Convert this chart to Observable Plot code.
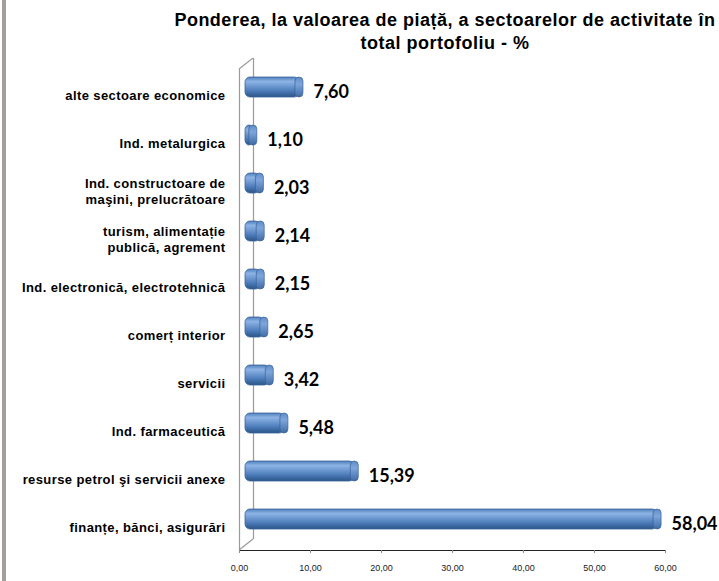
<!DOCTYPE html>
<html>
<head>
<meta charset="utf-8">
<script src="https://cdn.jsdelivr.net/npm/d3@7"></script>
<script src="https://cdn.jsdelivr.net/npm/@observablehq/plot@0.6"></script>
<style>
  html, body { margin: 0; padding: 0; background: #fff; }
  #wrap { position: relative; width: 719px; height: 581px; overflow: hidden; }
  #edge { position: absolute; left: 2px; top: 0; width: 4px; height: 581px; background: #a59f9c; }
  #title { height: 58px; box-sizing: border-box; padding-top: 9px; padding-left: 171px; text-align: center;
           font-family: "Liberation Sans", Arial, sans-serif; font-weight: bold; font-size: 18px; letter-spacing: 0.5px;
           line-height: 23px; color: #000; }
  svg { display: block; }
  .cat text { letter-spacing: 0.4px; }
</style>
</head>
<body>
<div id="wrap">
  <div id="edge"></div>
  <div id="title">Ponderea, la valoarea de piață, a sectoarelor de activitate în<br>total portofoliu - %</div>
  <div id="chart"></div>
</div>
<script>
const categories = [
  "alte sectoare economice",
  "Ind. metalurgica",
  "Ind. constructoare de\nmaşini, prelucrătoare",
  "turism, alimentație\npublică, agrement",
  "Ind. electronică, electrotehnică",
  "comerț interior",
  "servicii",
  "Ind. farmaceutică",
  "resurse petrol şi servicii anexe",
  "finanțe, bănci, asigurări"
];
const values = [7.60, 1.10, 2.03, 2.14, 2.15, 2.65, 3.42, 5.48, 15.39, 58.04];
const xTicks = [0, 10, 20, 30, 40, 50, 60];

const data = categories.map((c, i) => ({category: c, value: values[i]}));
const fmt = v => v.toFixed(2).replace(".", ",");

const barInset = 14;
const mTop = 11, mBottom = 31, H = 523;
const chart = Plot.plot({
  width: 719,
  height: H,
  marginLeft: 239,
  marginRight: 54,
  marginTop: mTop,
  marginBottom: mBottom,
  style: {fontFamily: "Liberation Sans, Arial, sans-serif", fontSize: "9px", color: "#222", background: "#fff"},
  x: {domain: [0, 60], ticks: xTicks, tickFormat: fmt, tickSize: 3, tickPadding: 11, line: true, label: null},
  y: {domain: categories, padding: 0, axis: null},
  marks: [
    Plot.ruleX([0], {stroke: "#9a9a9a", strokeWidth: 1.2, dx: 14, dy: -11}),
    Plot.ruleX([0], {stroke: "#9a9a9a", strokeWidth: 1.2}),
    Plot.barX(data, {x: "value", y: "category", fill: "url(#cyl)", stroke: "#3b649a", strokeWidth: 0.8,
      rx: 5, insetTop: barInset, insetBottom: barInset, dx: 6, dy: -7}),
    Plot.barX(data, {x1: "value", x2: "value", y: "category", fill: "url(#cap)", stroke: "#3a6296", strokeWidth: 0.7,
      rx: 4, insetLeft: -4, insetRight: -4, insetTop: barInset, insetBottom: barInset, dx: 6, dy: -7}),
    Plot.text(data, {x: 0, y: "category", text: "category", textAnchor: "end", dx: -14, lineHeight: 1.25,
      fontWeight: "bold", fontSize: 13, fill: "#000", className: "cat"}),
    Plot.text(data, {x: "value", y: "category", text: d => fmt(d.value), textAnchor: "start", dx: 20, dy: -2,
      fontWeight: "bold", fontSize: 18, fontFamily: "Lato, sans-serif", fill: "#000"})
  ]
});

const svg = d3.select(chart);
const defs = svg.insert("defs", ":first-child");
const g1 = defs.append("linearGradient").attr("id", "cyl").attr("x1", 0).attr("y1", 0).attr("x2", 0).attr("y2", 1);
[["0%", "#4f7fbd"], ["22%", "#8db3e3"], ["40%", "#75a0d6"], ["70%", "#4b7bb8"], ["100%", "#2c5588"]]
  .forEach(([o, c]) => g1.append("stop").attr("offset", o).attr("stop-color", c));
const g2 = defs.append("linearGradient").attr("id", "cap").attr("x1", 0).attr("y1", 0).attr("x2", 0).attr("y2", 1);
[["0%", "#5f8cc7"], ["35%", "#7ea6dc"], ["100%", "#3f6ba5"]]
  .forEach(([o, c]) => g2.append("stop").attr("offset", o).attr("stop-color", c));

// 3D wall diagonals, positioned from the plot's own scales
const xs = chart.scale("x");
const x0 = xs.apply(0);
const yTop = mTop, yBottom = H - mBottom;
svg.append("line").attr("x1", x0).attr("y1", yTop).attr("x2", x0 + 14).attr("y2", yTop - 11)
  .attr("stroke", "#9a9a9a").attr("stroke-width", 1.2);
svg.append("line").attr("x1", x0).attr("y1", yBottom).attr("x2", x0 + 14).attr("y2", yBottom - 11)
  .attr("stroke", "#9a9a9a").attr("stroke-width", 1.2);

svg.selectAll("[aria-label^='x-axis'] line, [aria-label^='x-axis'] path").attr("stroke", "#8a8a8a");
document.getElementById("chart").appendChild(chart);
</script>
</body>
</html>
